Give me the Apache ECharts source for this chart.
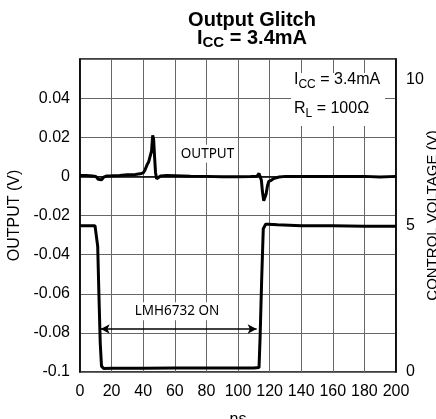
<!DOCTYPE html>
<html><head><meta charset="utf-8">
<script src="https://cdn.jsdelivr.net/npm/echarts@6/dist/echarts.min.js"></script>
<style>html,body{margin:0;padding:0;background:#fff}#c{width:436px;height:419px}</style>
</head><body><div id="c"></div>
<script>
// ---- data ----
const xTicks = [0,20,40,60,80,100,120,140,160,180,200];
const outT = [0,4,8,10,11.5,12.5,13.5,15,17,20,25,30,35,38,40,41,42.5,43.5,44.5,45.3,46,46.6,47.2,47.8,48.5,49.5,51,55,60,70,80,90,100,108,112,113.3,114,114.8,115.5,116.3,117,117.8,118.6,119.5,121,123,126,130,140,150,160,170,180,190,200];
const outV = [0.0005,0.0004,0.0002,0,-0.0015,-0.0025,-0.0018,-0.0004,0.0002,0.0003,0.0005,0.0008,0.001,0.0013,0.0018,0.003,0.006,0.0075,0.008,0.013,0.021,0.019,0.01,0.002,-0.0012,-0.0008,0.0002,0.0004,0.0003,0.0001,0,-0.0002,-0.0002,-0.0001,0,0.0015,0.002,-0.002,-0.008,-0.0125,-0.0128,-0.009,-0.005,-0.0025,-0.002,-0.001,-0.0003,0,0,0,0,0,0,-0.0003,0];
const ctlT = [0,5,9.5,10.5,11.2,12,12.8,13.6,15,20,40,60,80,100,110,113.3,114,115,116,117.5,119,125,140,160,180,200];
const ctlV = [5.0,5.0,5.0,4.95,4.3,2.6,1.0,0.2,0.12,0.13,0.13,0.14,0.14,0.14,0.14,0.15,1.2,3.2,4.9,5.05,5.05,5.03,5.0,5.0,4.98,4.98];
const arrowT = [13.1, 111.8];
const arrowV = -0.078;
const outputLabel = {t: 80.7, v: 0.0116, text: 'OUTPUT'};
const onLabel = {t: 61.4, v: -0.069, text: 'LMH6732 ON'};

const outData = outT.map((t,i)=>[t,outV[i]]);
const ctlData = ctlT.map((t,i)=>[t,ctlV[i]]);

const chart = echarts.init(document.getElementById('c'), null, {renderer:'canvas'});
const F = '"Liberation Sans", Arial, sans-serif';
const gridColor = '#666';
chart.setOption({
  animation:false,
  backgroundColor:'#fff',
  grid:{left:80, top:59, width:316, height:313, show:true, borderColor:'#000', borderWidth:1.5, backgroundColor:'transparent', containLabel:false, outerBoundsMode:'none'},
  xAxis:{type:'value', min:0, max:200, interval:20,
    name:'ns', nameLocation:'middle', nameGap:40, nameTextStyle:{fontFamily:F, fontSize:16, color:'#000'},
    axisLine:{lineStyle:{color:'#000', width:1.5}}, axisTick:{show:false},
    axisLabel:{fontFamily:F, fontSize:16, color:'#000', margin:12},
    splitLine:{show:true, lineStyle:{color:gridColor, width:1}}},
  yAxis:[
    {type:'value', min:-0.1, max:0.06, interval:0.02, position:'left',
     name:'OUTPUT (V)', nameLocation:'middle', nameGap:57, nameTextStyle:{fontFamily:F, fontSize:16, color:'#000'},
     axisLine:{show:true, lineStyle:{color:'#000', width:1.5}}, axisTick:{show:false},
     axisLabel:{fontFamily:F, fontSize:16, color:'#000', margin:10, showMaxLabel:false,
       formatter:v=>String(Math.round(v*100)/100)},
     splitLine:{show:true, lineStyle:{color:gridColor, width:1}}},
    {type:'value', min:0, max:10.7, interval:5, position:'right',
     name:'CONTROL VOLTAGE (V)', nameLocation:'middle', nameGap:29, nameMoveOverlap:false, nameTextStyle:{fontFamily:F, fontSize:15, color:'#000'},
     axisLine:{show:true, lineStyle:{color:'#000', width:1.5}}, axisTick:{show:false},
     axisLabel:{fontFamily:F, fontSize:16, color:'#000', margin:10, showMaxLabel:false},
     splitLine:{show:false}}
  ],
  series:[
    {type:'line', name:'OUTPUT', yAxisIndex:0, data:outData, showSymbol:false, symbol:'none',
     lineStyle:{color:'#000', width:3}, z:3,
     markLine:{silent:true, symbol:['arrow','arrow'], symbolSize:[7,9],
       lineStyle:{color:'#000', width:1.5, type:'solid'}, label:{show:false},
       data:[[{coord:[arrowT[0], arrowV]},{coord:[arrowT[1], arrowV]}]]},
     markPoint:{silent:true, symbol:'rect', symbolSize:0,
       label:{show:true, position:'inside', formatter:'{b}', fontFamily:'"Noto Sans", sans-serif', fontSize:13.5, color:'#000', backgroundColor:'#fff', padding:[2,2]},
       data:[{name:outputLabel.text, coord:[outputLabel.t, outputLabel.v]},{name:onLabel.text, coord:[onLabel.t, onLabel.v]}]}
    },
    {type:'line', name:'CONTROL', yAxisIndex:1, data:ctlData, showSymbol:false, symbol:'none',
     lineStyle:{color:'#000', width:3}, z:3}
  ],
  graphic:[
    {type:'text', position:[252,20], style:{text:'Output Glitch', font:'bold 20px '+F, fill:'#000', align:'center', verticalAlign:'middle'}},
    {type:'text', position:[252,38], style:{text:'{n|I}{s|CC}{n| = 3.4mA}', font:'bold 20px '+F, fill:'#000', align:'center', verticalAlign:'middle',
      rich:{n:{fontFamily:F, fontWeight:'bold', fontSize:20, lineHeight:24}, s:{fontFamily:F, fontWeight:'bold', fontSize:15, lineHeight:15, verticalAlign:'bottom'}}}},
    {type:'rect', shape:{x:291, y:73, width:94, height:53}, style:{fill:'#fff'}, z:10},
    {type:'text', position:[294,80], z:11, style:{text:'{n|I}{s|CC}{n| = 3.4mA}', font:'16px '+F, fill:'#000', align:'left', verticalAlign:'middle',
      rich:{n:{fontFamily:F, fontSize:16, lineHeight:22}, s:{fontFamily:F, fontSize:12, lineHeight:12, verticalAlign:'bottom'}}}},
    {type:'text', position:[294,109], z:11, style:{text:'{n|R}{s|L}{n| = 100Ω}', font:'16px '+F, fill:'#000', align:'left', verticalAlign:'middle',
      rich:{n:{fontFamily:F, fontSize:16, lineHeight:22}, s:{fontFamily:F, fontSize:12, lineHeight:12, verticalAlign:'bottom'}}}}
  ]
});
</script></body></html>
